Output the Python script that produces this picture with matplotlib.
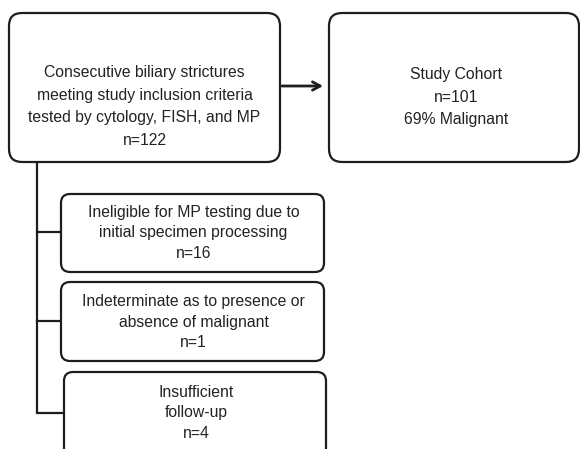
import matplotlib
matplotlib.use("Agg")
import matplotlib.pyplot as plt
from matplotlib.patches import FancyBboxPatch

plt.rcParams['font.family'] = ['Liberation Sans', 'DejaVu Sans']

# ---- flowchart content ----
source_label = "Consecutive biliary strictures\nmeeting study inclusion criteria\ntested by cytology, FISH, and MP"
source_n = 122
cohort_label = "Study Cohort"
cohort_n = 101
cohort_malignant_pct = 69
excluded_labels = ["Ineligible for MP testing due to\ninitial specimen processing",
                   "Indeterminate as to presence or\nabsence of malignant",
                   "Insufficient\nfollow-up"]
excluded_n = [16, 1, 4]

LINE = '#1e1e1e'
TXT = '#222222'
FS = 11.3

fig = plt.figure(figsize=(5.80, 4.49), dpi=100)
ax = fig.add_axes([0, 0, 1, 1])
ax.set_xlim(0, 580)
ax.set_ylim(449, 0)
ax.axis('off')


def box(x0, y0, x1, y1, r):
    p = FancyBboxPatch((x0, y0), x1 - x0, y1 - y0,
                       boxstyle=f"round,pad=0,rounding_size={r}",
                       fc='white', ec=LINE, lw=1.6, zorder=2)
    ax.add_patch(p)


# top boxes
box(9, 13, 280, 162, 13)
ax.text(144.5, 106.5, f"{source_label}\nn={source_n}", ha='center', va='center',
        fontsize=FS, color=TXT, linespacing=1.63, zorder=3)

box(329, 13, 579, 162, 13)
ax.text(456, 97, f"{cohort_label}\nn={cohort_n}\n{cohort_malignant_pct}% Malignant",
        ha='center', va='center', fontsize=FS, color=TXT, linespacing=1.63, zorder=3)

ax.annotate("", xy=(323, 86), xytext=(282, 86),
            arrowprops=dict(arrowstyle="->,head_length=0.55,head_width=0.3",
                            lw=2, color=LINE, shrinkA=0, shrinkB=0))

# exclusions
boxes = [(61, 194, 324, 272), (61, 282, 324, 361), (64, 372, 326, 470)]
branch_y = [232, 321, 413]
text_y = [233, 322, 413]

ax.plot([37, 37], [162, branch_y[-1]], color=LINE, lw=1.6, zorder=1,
        solid_capstyle='butt')
for (x0, y0, x1, y1), by, ty, lab, n in zip(boxes, branch_y, text_y,
                                           excluded_labels, excluded_n):
    box(x0, y0, x1, y1, 9)
    ax.plot([37, x0], [by, by], color=LINE, lw=1.6, zorder=1)
    ax.text((x0 + x1) / 2 + 1, ty, f"{lab}\nn={n}", ha='center', va='center',
            fontsize=FS, color=TXT, linespacing=1.45, zorder=3)

fig.savefig('out.png', dpi=100)
